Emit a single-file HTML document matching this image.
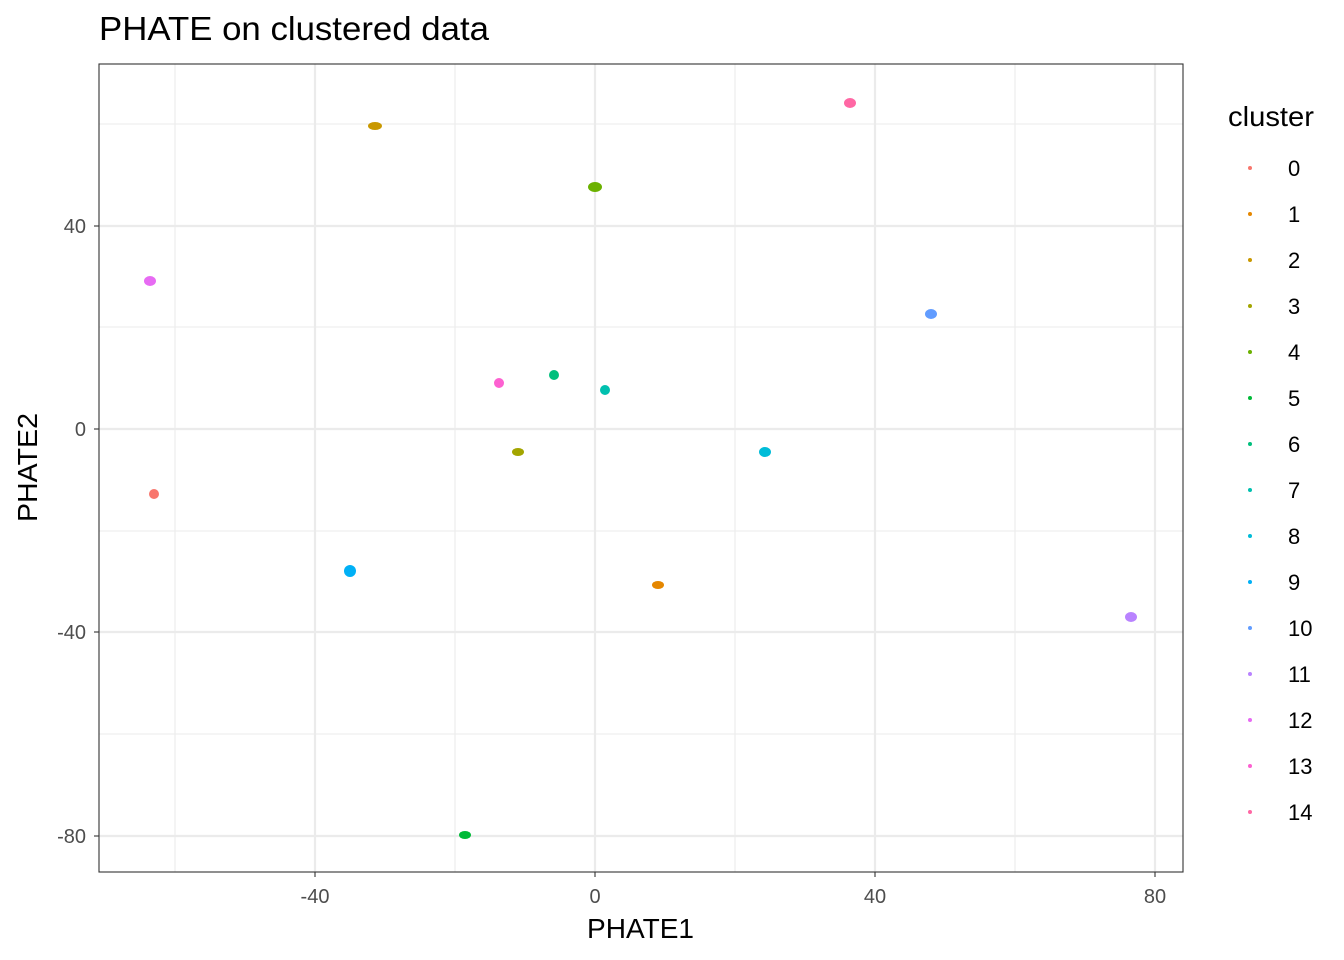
<!DOCTYPE html>
<html><head><style>body{margin:0;background:#fff}svg{display:block}text{font-family:"Liberation Sans",sans-serif}</style></head><body>
<svg width="1344" height="960" xmlns="http://www.w3.org/2000/svg">
<rect width="1344" height="960" fill="#fff"/>
<g stroke="#ebebeb" stroke-width="1.1">
<line x1="175" y1="64" x2="175" y2="872"/><line x1="455" y1="64" x2="455" y2="872"/><line x1="735" y1="64" x2="735" y2="872"/><line x1="1015" y1="64" x2="1015" y2="872"/>
<line x1="99" y1="124" x2="1183" y2="124"/><line x1="99" y1="327" x2="1183" y2="327"/><line x1="99" y1="531" x2="1183" y2="531"/><line x1="99" y1="734" x2="1183" y2="734"/>
</g>
<g stroke="#ebebeb" stroke-width="2.2">
<line x1="315" y1="64" x2="315" y2="872"/><line x1="595" y1="64" x2="595" y2="872"/><line x1="875" y1="64" x2="875" y2="872"/><line x1="1155" y1="64" x2="1155" y2="872"/>
<line x1="99" y1="226" x2="1183" y2="226"/><line x1="99" y1="429" x2="1183" y2="429"/><line x1="99" y1="632" x2="1183" y2="632"/><line x1="99" y1="836" x2="1183" y2="836"/>
</g>
<g>
<ellipse cx="154" cy="494" rx="5" ry="5" fill="#F8766D"/>
<ellipse cx="658" cy="585" rx="6" ry="4" fill="#E58700"/>
<ellipse cx="375" cy="126" rx="7" ry="4" fill="#C99800"/>
<ellipse cx="518" cy="452" rx="6" ry="4" fill="#A3A500"/>
<ellipse cx="595" cy="187" rx="7" ry="5" fill="#6BB100"/>
<ellipse cx="465" cy="835" rx="6" ry="4" fill="#00BA38"/>
<ellipse cx="554" cy="375" rx="5" ry="5" fill="#00BF7D"/>
<ellipse cx="605" cy="390" rx="5" ry="5" fill="#00C0AF"/>
<ellipse cx="765" cy="452" rx="6" ry="5" fill="#00BCD8"/>
<ellipse cx="350" cy="571" rx="6" ry="6" fill="#00B0F6"/>
<ellipse cx="931" cy="314" rx="6" ry="5" fill="#619CFF"/>
<ellipse cx="1131" cy="617" rx="6" ry="5" fill="#B983FF"/>
<ellipse cx="150" cy="281" rx="6" ry="5" fill="#E76BF3"/>
<ellipse cx="499" cy="383" rx="5" ry="5" fill="#FD61D1"/>
<ellipse cx="850" cy="103" rx="6" ry="5" fill="#FF67A4"/>
</g>
<rect x="99" y="64" width="1084" height="808" fill="none" stroke="#333" stroke-width="1.1"/>
<g stroke="#333" stroke-width="1.1">
<line x1="315" y1="872" x2="315" y2="877"/><line x1="595" y1="872" x2="595" y2="877"/><line x1="875" y1="872" x2="875" y2="877"/><line x1="1155" y1="872" x2="1155" y2="877"/>
<line x1="94" y1="226" x2="99" y2="226"/><line x1="94" y1="429" x2="99" y2="429"/><line x1="94" y1="632" x2="99" y2="632"/><line x1="94" y1="836" x2="99" y2="836"/>
</g>
<g font-size="20" fill="#4d4d4d" text-anchor="middle">
<text x="315" y="903">-40</text><text x="595" y="903">0</text><text x="875" y="903">40</text><text x="1155" y="903">80</text>
</g>
<g font-size="20" fill="#4d4d4d" text-anchor="end">
<text x="86" y="233">40</text><text x="86" y="436">0</text><text x="86" y="639">-40</text><text x="86" y="843">-80</text>
</g>
<text x="587" y="938" font-size="28" textLength="107" lengthAdjust="spacingAndGlyphs">PHATE1</text>
<text transform="translate(37,522) rotate(-90)" font-size="28" textLength="109" lengthAdjust="spacingAndGlyphs">PHATE2</text>
<text x="99" y="40" font-size="33" textLength="390" lengthAdjust="spacingAndGlyphs">PHATE on clustered data</text>
<text x="1228" y="126" font-size="28" textLength="86" lengthAdjust="spacingAndGlyphs">cluster</text>
<g font-size="22">
<circle cx="1250" cy="168" r="2" fill="#F8766D"/><text x="1288" y="176">0</text>
<circle cx="1250" cy="214" r="2" fill="#E58700"/><text x="1288" y="222">1</text>
<circle cx="1250" cy="260" r="2" fill="#C99800"/><text x="1288" y="268">2</text>
<circle cx="1250" cy="306" r="2" fill="#A3A500"/><text x="1288" y="314">3</text>
<circle cx="1250" cy="352" r="2" fill="#6BB100"/><text x="1288" y="360">4</text>
<circle cx="1250" cy="398" r="2" fill="#00BA38"/><text x="1288" y="406">5</text>
<circle cx="1250" cy="444" r="2" fill="#00BF7D"/><text x="1288" y="452">6</text>
<circle cx="1250" cy="490" r="2" fill="#00C0AF"/><text x="1288" y="498">7</text>
<circle cx="1250" cy="536" r="2" fill="#00BCD8"/><text x="1288" y="544">8</text>
<circle cx="1250" cy="582" r="2" fill="#00B0F6"/><text x="1288" y="590">9</text>
<circle cx="1250" cy="628" r="2" fill="#619CFF"/><text x="1288" y="636">10</text>
<circle cx="1250" cy="674" r="2" fill="#B983FF"/><text x="1288" y="682">11</text>
<circle cx="1250" cy="720" r="2" fill="#E76BF3"/><text x="1288" y="728">12</text>
<circle cx="1250" cy="766" r="2" fill="#FD61D1"/><text x="1288" y="774">13</text>
<circle cx="1250" cy="812" r="2" fill="#FF67A4"/><text x="1288" y="820">14</text>
</g>
</svg>
</body></html>
